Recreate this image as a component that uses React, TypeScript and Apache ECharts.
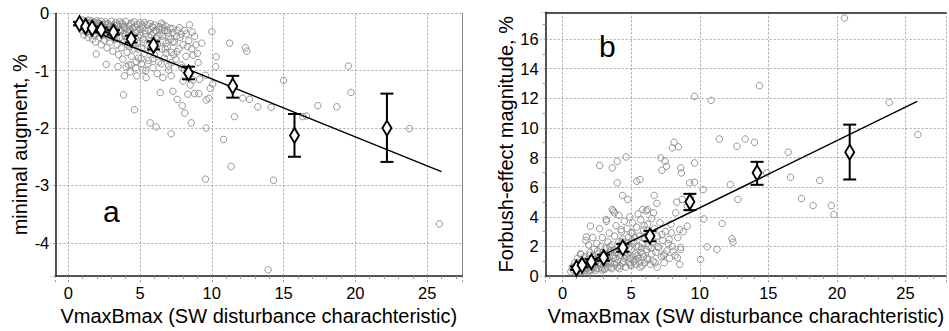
import React, { useEffect, useRef } from "react";
import * as echarts from "echarts";

// ---------- Panel a: minimal augment ----------
const leftCluster: number[][] = [
  [0.8,-0.15],[0.9,-0.22],[1.0,-0.12],[1.0,-0.3],[1.1,-0.18],[1.1,-0.38],[1.2,-0.14],[1.2,-0.26],[1.3,-0.2],[1.3,-0.33],[1.4,-0.12],[1.4,-0.42],[1.5,-0.17],[1.5,-0.28],[1.5,-0.36],
  [1.6,-0.13],[1.6,-0.22],[1.7,-0.3],[1.7,-0.45],[1.8,-0.15],[1.8,-0.38],[1.9,-0.2],[1.9,-0.5],[2.0,-0.13],[2.0,-0.27],[2.1,-0.34],[2.1,-0.18],[2.2,-0.42],[2.2,-0.24],[2.3,-0.14],[2.3,-0.55],[2.4,-0.3],[2.4,-0.2],[2.5,-0.37],[2.5,-0.47],
  [2.6,-0.15],[2.6,-0.26],[2.7,-0.33],[2.7,-0.6],[2.8,-0.18],[2.8,-0.42],[2.9,-0.23],[2.9,-0.5],[3.0,-0.14],[3.0,-0.3],[3.1,-0.38],[3.1,-0.66],[3.2,-0.2],[3.2,-0.45],[3.3,-0.16],[3.3,-0.27],[3.4,-0.55],[3.4,-0.35],[3.5,-0.22],[3.5,-0.72],
  [3.6,-0.15],[3.6,-0.42],[3.7,-0.3],[3.7,-0.6],[3.8,-0.19],[3.8,-0.8],[3.9,-0.5],[3.9,-0.25],[4.0,-0.14],[4.0,-0.36],[4.1,-0.68],[4.1,-0.44],[4.2,-0.22],[4.2,-0.9],[4.3,-0.3],[4.3,-0.58],[4.4,-0.17],[4.4,-0.75],[4.5,-0.4],[4.5,-0.26],
  [4.6,-0.15],[4.6,-0.62],[4.7,-0.33],[4.7,-0.95],[4.8,-0.2],[4.8,-0.5],[4.9,-0.42],[4.9,-0.78],[5.0,-0.17],[5.0,-0.28],[5.1,-0.6],[5.1,-0.88],[5.2,-0.24],[5.2,-0.45],[5.3,-0.7],[5.3,-0.16],[5.4,-0.36],[5.4,-1.0],[5.5,-0.55],[5.5,-0.2],
  [5.6,-0.3],[5.6,-0.82],[5.7,-0.18],[5.7,-0.48],[5.8,-0.65],[5.8,-0.38],[5.9,-0.25],[5.9,-0.95],[6.0,-0.2],[6.0,-0.72],[6.1,-0.44],[6.1,-0.3],[6.2,-0.55],[6.2,-1.05],[6.3,-0.23],[6.3,-0.85],[6.4,-0.36],[6.5,-0.62],[6.5,-0.17],
  [6.6,-0.48],[6.7,-0.3],[6.7,-0.78],[6.8,-0.22],[6.9,-0.58],[7.0,-0.4],[7.0,-0.92],[7.1,-0.26],[7.2,-0.68],[7.3,-0.34],[7.4,-0.5],[7.5,-0.8],[7.6,-0.3],[7.7,-0.62],[7.8,-0.42],[7.9,-0.95],[8.0,-0.55],[8.1,-0.3],[8.2,-0.75],[8.4,-0.48],[8.6,-0.62],[8.8,-0.4],[9.0,-0.7],[9.3,-0.52],
  [1.25,-0.2],[1.65,-0.18],[2.15,-0.21],[2.55,-0.19],[3.05,-0.22],[3.45,-0.19],[3.85,-0.23],[2.35,-0.35],[2.85,-0.3],[3.25,-0.36],[1.85,-0.27],[1.45,-0.24],[4.25,-0.33],[4.65,-0.24],[3.65,-0.28],
  [1.05,-0.25],[1.35,-0.16],[1.55,-0.32],[1.75,-0.21],[1.95,-0.36],[2.05,-0.16],[2.45,-0.25],[2.65,-0.38],[2.75,-0.2],[2.95,-0.35],[3.15,-0.26],[3.35,-0.44],[3.55,-0.3],[3.75,-0.17],[3.95,-0.4],[4.05,-0.27],[4.15,-0.55],[4.35,-0.2],[4.45,-0.48],[4.75,-0.29],
  [4.85,-0.62],[5.05,-0.38],[5.15,-0.2],[5.25,-0.52],[5.35,-0.3],[5.6,-0.42],[5.75,-0.6],[5.95,-0.33],[6.05,-0.52],[6.25,-0.4],[6.35,-0.28],[6.6,-0.2],[6.75,-0.62],[6.9,-0.3],[7.15,-0.45],[7.35,-0.72],[7.55,-0.4],[7.75,-0.25],[8.3,-0.58],[8.9,-0.55]
];
const leftOutliers: number[][] = [
  [10.0,-0.32],[11.24,-0.52],[12.35,-0.6],[12.44,-0.66],[10.31,-0.76],[19.52,-0.92],[15.0,-1.17],[19.7,-1.38],[12.16,-1.48],[12.63,-1.5],[13.2,-1.63],[14.14,-1.64],[17.39,-1.61],[18.71,-1.63],[11.58,-1.8],[16.34,-1.8],[16.6,-1.79],[23.77,-2.01],[10.82,-2.2],[11.35,-2.67],[9.56,-2.89],[14.3,-2.91],[13.93,-4.47],[25.86,-3.67],
  [9.61,-2.0],[7.17,-2.1],[6.13,-1.98],[5.71,-1.91],[4.62,-1.68],[3.85,-1.42],[6.41,-1.38],[7.29,-1.36],[7.59,-1.5],[7.94,-1.61],[8.12,-1.74],[8.57,-1.91],[8.33,-1.41],[8.8,-1.4],[9.1,-1.4],[9.61,-1.51],[9.8,-1.48],[9.15,-1.15],[10.07,-1.23],[9.9,-1.31],[9.56,-1.08],[10.26,-0.93],[9.05,-0.86],[8.7,-0.73],
  [8.45,-0.2],[8.64,-0.33],[8.22,-0.36],[7.87,-0.36],[7.29,-0.27],[6.94,-0.34],[6.55,-0.25],[6.55,-0.4],[5.85,-0.23],[6.13,-0.3],[6.82,-0.52],[7.29,-0.5],[7.57,-0.67],[6.82,-0.7],[6.48,-0.88],[7.17,-0.86],[7.0,-0.99],[6.59,-1.12],[7.17,-1.09],[7.87,-0.9],[8.1,-0.99],[8.7,-1.16],[8.5,-1.25],[7.99,-1.18],
  [5.43,-1.12],[4.78,-1.09],[3.92,-1.09],[3.46,-0.93],[2.65,-0.89],[1.95,-0.71],[4.32,-1.02],[4.39,-0.9],[4.74,-0.85],[5.08,-0.79],[5.55,-0.88],[5.9,-0.79],[5.2,-0.99],[4.04,-0.93]
];
const leftMeans: number[][] = [
  [0.79,-0.18],[1.21,-0.23],[1.67,-0.26],[2.3,-0.29],[3.15,-0.33],[4.39,-0.45],[5.94,-0.56],[8.38,-1.04],[11.46,-1.27],[15.76,-2.13],[22.2,-2.0]
];
const leftErr: number[][] = [
  [-0.21,-0.15],[-0.26,-0.2],[-0.29,-0.23],[-0.33,-0.25],[-0.37,-0.29],[-0.51,-0.39],[-0.63,-0.49],[-1.15,-0.93],[-1.47,-1.09],[-2.5,-1.755],[-2.59,-1.4]
];
const leftFit: number[][] = [[0.9,-0.225],[26,-2.76]];

// ---------- Panel b: Forbush-effect magnitude ----------
const rightCluster: number[][] = [
  [0.6,0.3],[0.7,0.6],[0.8,0.4],[0.9,0.9],[1.0,0.25],[1.0,0.7],[1.1,1.2],[1.1,0.45],[1.2,0.3],[1.2,0.9],[1.3,0.6],[1.3,1.5],[1.4,0.35],[1.4,1.0],[1.5,0.7],[1.5,0.5],
  [1.6,0.3],[1.6,1.3],[1.7,0.8],[1.7,2.4],[1.8,0.5],[1.8,1.1],[1.9,2.1],[1.9,0.35],[2.0,0.7],[2.0,1.6],[2.1,0.45],[2.1,1.0],[2.2,2.6],[2.2,1.3],[2.3,0.6],[2.3,1.8],[2.4,0.9],[2.4,0.4],[2.5,1.2],[2.5,2.2],
  [2.6,0.5],[2.6,1.5],[2.7,0.8],[2.7,3.2],[2.8,1.1],[2.8,2.0],[2.9,0.4],[2.9,2.6],[3.0,0.7],[3.0,1.4],[3.1,1.9],[3.1,0.5],[3.2,1.0],[3.2,3.7],[3.3,2.3],[3.3,0.6],[3.4,1.3],[3.4,2.9],[3.5,0.9],[3.5,1.7],
  [3.6,0.5],[3.6,2.1],[3.7,1.2],[3.7,4.4],[3.8,0.8],[3.8,2.7],[3.9,1.6],[3.9,3.4],[4.0,0.6],[4.0,1.1],[4.1,2.3],[4.1,4.1],[4.2,1.4],[4.2,0.7],[4.3,3.0],[4.3,1.9],[4.4,0.9],[4.4,2.5],[4.5,1.2],[4.5,3.7],
  [4.6,0.6],[4.6,2.0],[4.7,1.5],[4.7,3.2],[4.8,0.9],[4.8,2.6],[4.9,4.0],[4.9,1.2],[5.0,0.7],[5.0,1.8],[5.1,2.9],[5.1,3.6],[5.2,1.0],[5.2,2.3],[5.3,0.8],[5.3,1.5],[5.4,3.3],[5.4,2.0],[5.5,1.2],[5.5,4.2],
  [5.6,0.9],[5.6,2.7],[5.7,1.6],[5.7,3.8],[5.8,0.7],[5.8,2.2],[5.9,1.3],[5.9,3.1],[6.0,2.5],[6.0,0.9],[6.1,1.8],[6.1,4.4],[6.2,1.1],[6.2,3.5],[6.3,2.0],[6.4,0.8],[6.4,2.8],[6.5,1.5],[6.5,3.9],
  [6.6,1.0],[6.6,2.3],[6.7,3.2],[6.8,1.6],[6.9,2.7],[6.9,0.6],[7.0,1.9],[7.1,3.6],[7.2,1.3],[7.3,2.4],[7.4,0.9],[7.5,3.0],[7.6,1.7],[7.7,2.2],[7.8,1.2],[7.9,3.5],[8.0,2.0],[8.2,1.4],[8.4,2.6],[8.6,1.8],[8.8,3.0],
  [1.25,0.55],[1.75,0.75],[2.25,0.95],[2.75,1.25],[3.25,1.5],[3.75,1.75],[4.25,2.0],[4.75,2.25],[5.25,2.6],[5.75,1.9],[2.15,0.6],[3.15,0.9],[3.85,1.2],[4.55,1.6],[5.45,1.4],
  [1.05,0.45],[1.35,0.8],[1.55,0.4],[1.65,1.0],[1.85,0.6],[1.95,1.4],[2.05,0.35],[2.35,1.1],[2.45,0.55],[2.55,1.7],[2.65,0.9],[2.85,0.55],[2.95,1.6],[3.05,0.45],[3.35,1.0],[3.45,2.0],[3.55,0.6],[3.65,1.4],[3.95,0.9],[4.05,1.6],
  [4.15,0.5],[4.35,2.3],[4.45,1.0],[4.65,1.3],[4.85,1.9],[4.95,0.8],[5.05,2.4],[5.15,1.3],[5.35,1.1],[5.55,2.0],[5.65,0.6],[5.85,1.5],[5.95,3.4],[6.15,1.2],[6.25,2.6],[6.45,1.9],[6.75,0.9],[6.95,2.0],[7.25,2.8],[7.45,1.5]
];
const rightOutliers: number[][] = [
  [20.55,17.41],[14.35,12.85],[23.81,11.72],[9.62,12.13],[10.83,11.86],[25.9,9.55],[11.43,9.25],[13.31,9.25],[13.99,9.03],[12.71,8.76],[16.45,8.36],[8.13,9.03],[8.44,8.72],[8.0,8.65],
  [2.7,7.46],[4.63,8.04],[3.98,7.75],[3.62,7.3],[3.98,6.29],[4.37,5.44],[4.75,5.17],[5.4,6.4],[5.64,6.51],[7.16,7.97],[7.47,7.75],[7.24,7.14],[7.57,7.41],[8.61,7.3],[8.66,6.96],[9.62,7.64],[9.26,6.29],[9.62,6.33],[9.33,5.28],
  [12.23,6.18],[12.78,5.17],[16.62,6.67],[18.74,6.45],[17.41,5.23],[18.26,4.76],[19.59,4.76],[19.78,4.16],[14.88,6.96],[10.25,5.84],[10.3,3.86],[11.63,3.55],[10.54,1.98],[11.26,1.8],[10.06,1.12],[12.35,2.52],[12.42,2.29],
  [8.73,5.17],[8.32,4.99],[9.09,4.72],[8.25,4.27],[9.09,3.37],[8.54,3.14],[8.61,1.95],[8.37,1.24],[8.54,0.79],[7.36,1.39],[8.06,1.68],[7.77,2.47],[7.93,2.92],[6.87,4.9],[6.68,5.44],[6.63,4.27],[6.2,4.49],[5.84,4.49],
  [2.03,3.37],[1.74,2.65],[1.33,1.46],[3.62,4.49],[3.79,4.27],[3.18,3.82],[4.27,3.14],[4.99,2.92]
];
const rightMeans: number[][] = [
  [1.01,0.54],[1.42,0.74],[2.1,0.97],[2.99,1.24],[4.39,1.91],[6.37,2.7],[9.28,5.01],[14.18,6.97],[20.93,8.36]
];
const rightErr: number[][] = [
  [0.42,0.66],[0.6,0.88],[0.8,1.14],[1.04,1.44],[1.64,2.18],[2.35,3.05],[4.45,5.55],[6.16,7.71],[6.52,10.22]
];
const rightFit: number[][] = [[0.65,0.38],[25.85,11.79]];

const xTitle = "VmaxBmax (SW disturbance charachteristic)";
const leftYTitle = "minimal augment, %";
const rightYTitle = "Forbush-effect magnitude, %";

const FONT = "'Liberation Sans', Arial, sans-serif";

const stepLabel = (step: number) => (v: number) => {
  const k = v / step;
  return Math.abs(k - Math.round(k)) < 1e-6 ? String(Math.round(v)) : "";
};

function errorBarSeries(means: number[][], err: number[][], xi: number, yi: number, z: number) {
  return {
    type: "custom",
    xAxisIndex: xi,
    yAxisIndex: yi,
    z,
    data: means.map((m, i) => [m[0], err[i][0], err[i][1]]),
    encode: { x: 0, y: [1, 2] },
    renderItem: (_p: any, api: any) => {
      const x = api.value(0);
      const lo = api.coord([x, api.value(1)]);
      const hi = api.coord([x, api.value(2)]);
      const w = 6.5;
      const st = { stroke: "#000", lineWidth: 2 };
      return {
        type: "group",
        children: [
          { type: "line", shape: { x1: hi[0], y1: hi[1], x2: lo[0], y2: lo[1] }, style: st },
          { type: "line", shape: { x1: hi[0] - w, y1: hi[1], x2: hi[0] + w, y2: hi[1] }, style: st },
          { type: "line", shape: { x1: lo[0] - w, y1: lo[1], x2: lo[0] + w, y2: lo[1] }, style: st },
        ],
      };
    },
  };
}

function xAxisCfg(grid: number, min: number, max: number) {
  return {
    type: "value",
    gridIndex: grid,
    min,
    max,
    splitNumber: 5,
    axisLine: { show: true, onZero: false, lineStyle: { color: "#222", width: 1.5 } },
    axisTick: { show: true, length: 6, lineStyle: { color: "#999", type: [2, 2] } },
    minorTick: { show: true, splitNumber: 5, length: 3, lineStyle: { color: "#999" } },
    axisLabel: { color: "#000", fontSize: 16.5, fontFamily: FONT, margin: 8, formatter: stepLabel(5) },
    splitLine: { show: true, lineStyle: { color: "#aaa", type: [2, 2], width: 1 } },
    name: xTitle,
    nameLocation: "middle",
    nameGap: 29,
    nameTextStyle: { color: "#000", fontSize: 20, fontFamily: FONT },
  };
}

export default function App() {
  const ref = useRef<HTMLDivElement>(null);
  useEffect(() => {
    if (!ref.current) return;
    const chart = echarts.init(ref.current, undefined, { renderer: "svg" });
    const scatterStyle = { color: "rgba(0,0,0,0)", borderColor: "#8a8a8a", borderWidth: 0.9, opacity: 1 };
    const diamondStyle = { color: "#ffffff", borderColor: "#000000", borderWidth: 2, opacity: 1 };
    chart.setOption({
      animation: false,
      backgroundColor: "#fff",
      grid: [
        { left: 55.3, top: 13.3, width: 407, height: 264.4, show: false },
        { left: 545.7, top: 12.3, width: 403.3, height: 264.7, show: false },
      ],
      xAxis: [
        xAxisCfg(0, -0.9, 27.45),
        xAxisCfg(1, -1.23, 27.95),
        {
          type: "value", gridIndex: 1, position: "top", min: -1.23, max: 27.95,
          axisLine: { show: true, onZero: false, lineStyle: { color: "#222", width: 1.5 } },
          axisTick: { show: false }, axisLabel: { show: false }, splitLine: { show: false },
        },
      ],
      yAxis: [
        {
          type: "value", gridIndex: 0, min: -4.58, max: 0, splitNumber: 5,
          axisLine: { show: true, onZero: false, lineStyle: { color: "#222", width: 1.5 } },
          axisTick: { show: true, length: 5, lineStyle: { color: "#999", type: [2, 2] } },
          axisLabel: { color: "#000", fontSize: 16.5, fontFamily: FONT, margin: 6, formatter: stepLabel(1) },
          splitLine: { show: true, lineStyle: { color: "#aaa", type: [2, 2], width: 1 } },
          name: leftYTitle, nameLocation: "middle", nameGap: 25,
          nameTextStyle: { color: "#000", fontSize: 20, fontFamily: FONT },
        },
        {
          type: "value", gridIndex: 0, position: "right", min: -4.58, max: 0,
          axisLine: { show: true, onZero: false, lineStyle: { color: "#888", width: 1 } },
          axisTick: { show: false }, axisLabel: { show: false }, splitLine: { show: false },
        },
        {
          type: "value", gridIndex: 1, min: 0, max: 17.8, interval: 2,
          axisLine: { show: true, onZero: false, lineStyle: { color: "#222", width: 1.5 } },
          axisTick: { show: true, length: 5, lineStyle: { color: "#999", type: [2, 2] } },
          minorTick: { show: true, splitNumber: 2, length: 3, lineStyle: { color: "#999" } },
          axisLabel: { color: "#000", fontSize: 16.5, fontFamily: FONT, margin: 7, formatter: stepLabel(2) },
          splitLine: { show: true, lineStyle: { color: "#aaa", type: [2, 2], width: 1 } },
          name: rightYTitle, nameLocation: "middle", nameGap: 30,
          nameTextStyle: { color: "#000", fontSize: 20, fontFamily: FONT },
        },
      ],
      series: [
        { type: "scatter", xAxisIndex: 0, yAxisIndex: 0, z: 2, symbol: "circle", symbolSize: 6.5, itemStyle: scatterStyle, data: leftCluster.concat(leftOutliers) },
        { type: "line", xAxisIndex: 0, yAxisIndex: 0, z: 3, showSymbol: false, symbol: "none", lineStyle: { color: "#000", width: 1.5 }, data: leftFit },
        errorBarSeries(leftMeans, leftErr, 0, 0, 4),
        { type: "scatter", xAxisIndex: 0, yAxisIndex: 0, z: 5, symbol: "diamond", symbolSize: [9, 15], itemStyle: diamondStyle, data: leftMeans },
        { type: "scatter", xAxisIndex: 1, yAxisIndex: 2, z: 2, symbol: "circle", symbolSize: 6.5, itemStyle: scatterStyle, data: rightCluster.concat(rightOutliers) },
        { type: "line", xAxisIndex: 1, yAxisIndex: 2, z: 3, showSymbol: false, symbol: "none", lineStyle: { color: "#000", width: 1.5 }, data: rightFit },
        errorBarSeries(rightMeans, rightErr, 1, 2, 4),
        { type: "scatter", xAxisIndex: 1, yAxisIndex: 2, z: 5, symbol: "diamond", symbolSize: [9, 15], itemStyle: diamondStyle, data: rightMeans },
      ],
      graphic: [
        { type: "text", left: 103, top: 196, z: 10, style: { text: "a", fontSize: 30, fontFamily: FONT, fill: "#000" } },
        { type: "text", left: 599, top: 31, z: 10, style: { text: "b", fontSize: 30, fontFamily: FONT, fill: "#000" } },
      ],
    });
    return () => chart.dispose();
  }, []);
  return <div ref={ref} style={{ position: "absolute", left: 0, top: 0, width: 949, height: 331 }} />;
}
